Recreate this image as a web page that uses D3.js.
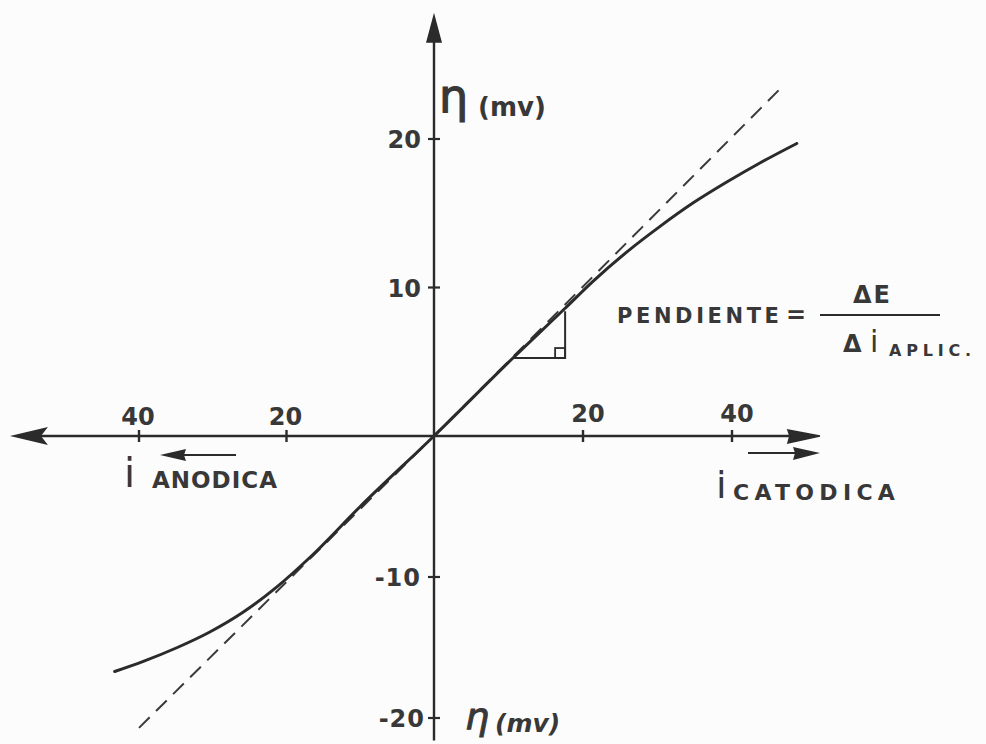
<!DOCTYPE html>
<html>
<head>
<meta charset="utf-8">
<script src="https://cdn.jsdelivr.net/npm/d3@7"></script>
<style>
  html, body { margin: 0; padding: 0; background: #fcfcfc; }
  svg { display: block; }
  text { fill: #383838; font-family: "DejaVu Sans", sans-serif; }
</style>
</head>
<body>
<svg id="chart" width="986" height="744"></svg>
<script>
// Polarization curve: overpotential η (mV) vs applied current (anodic < 0 < cathodic)
const currentValues = [-43.3, -39.5, -34.8, -30.4, -25.9, -21.3, -16.8, -10, 0, 10.6, 17.6, 21.3, 25.9, 30.3, 34.8, 39.3, 43.8, 48.7];
const etaValues     = [-16.7, -16.0, -15.0, -13.9, -12.5, -10.7, -8.6, -5.0, 0, 5.25, 8.6, 10.4, 12.4, 14.1, 15.7, 17.1, 18.4, 19.7];

// Linear (low-field) tangent through the origin
const tangentCurrent = [-40, 0, 46.5];
const tangentEta     = [-20.7, 0, 23.4];

// Slope triangle on the linear part
const triangleCurrent = [10.6, 17.6, 17.6];
const triangleEta     = [5.25, 5.25, 8.4];

// Axis ticks and labels
const xTicks = [-40, -20, 20, 40];
const yTicks = [20, 10, -10, -20];
const xAxisExtent = [-57.5, 51.8];
const yAxisExtent = [-21.6, 28.5];

const svg = d3.select("#chart");

const x = d3.scaleLinear().domain([-40, 0, 40]).range([139, 434, 732]);
const y = d3.scaleLinear().domain([-20, 0, 20]).range([718, 436, 139]);

const ink = "#2b2b2b";

// Axes
const x0 = x(0), y0 = y(0);
svg.append("line")
  .attr("x1", x(xAxisExtent[0]) + 20).attr("x2", x(xAxisExtent[1]) - 10)
  .attr("y1", y0).attr("y2", y0)
  .attr("stroke", ink).attr("stroke-width", 2.4);
svg.append("line")
  .attr("x1", x0).attr("x2", x0)
  .attr("y1", y(yAxisExtent[1]) + 20).attr("y2", y(yAxisExtent[0]))
  .attr("stroke", ink).attr("stroke-width", 2.4);

// Arrowheads
const xl = x(xAxisExtent[0]), xr = x(xAxisExtent[1]), yt = y(yAxisExtent[1]);
svg.append("path")
  .attr("d", `M${xl},${y0} L${xl + 38},${y0 - 9} L${xl + 31},${y0} L${xl + 38},${y0 + 9} Z`)
  .attr("fill", ink);
svg.append("path")
  .attr("d", `M${xr},${y0} L${xr - 32},${y0 - 6} L${xr - 30},${y0} L${xr - 32},${y0 + 7} Z`)
  .attr("fill", ink).attr("stroke", ink).attr("stroke-width", 1.5);
svg.append("path")
  .attr("d", `M${x0},${yt} L${x0 - 8},${yt + 30} L${x0 + 8},${yt + 30} Z`)
  .attr("fill", ink);

// Ticks crossing the axes
svg.selectAll(".xtick").data(xTicks).join("line")
  .attr("x1", d => x(d)).attr("x2", d => x(d))
  .attr("y1", y0 - 6).attr("y2", y0 + 6)
  .attr("stroke", ink).attr("stroke-width", 2.4);
svg.selectAll(".ytick").data(yTicks).join("line")
  .attr("x1", x0 - 6).attr("x2", x0 + 6)
  .attr("y1", d => y(d)).attr("y2", d => y(d))
  .attr("stroke", ink).attr("stroke-width", 2.2);

// Tick labels
svg.selectAll(".xlab").data(xTicks).join("text")
  .attr("x", d => x(d) + (d < 0 ? -1 : 5))
  .attr("y", d => y0 - (d < 0 ? 11 : 14))
  .attr("text-anchor", "middle")
  .attr("font-size", 24).attr("font-weight", "bold")
  .text(d => Math.abs(d));
svg.selectAll(".ylab").data(yTicks).join("text")
  .attr("x", d => x0 - (d === -20 ? 9 : 13))
  .attr("y", d => y(d) + 9)
  .attr("text-anchor", "end")
  .attr("font-size", 24).attr("font-weight", "bold")
  .attr("letter-spacing", d => d < 0 ? 1 : 0)
  .text(d => String(d));

// Tangent (dashed)
svg.append("path")
  .attr("d", d3.line()(tangentCurrent.map((c, i) => [x(c), y(tangentEta[i])])))
  .attr("fill", "none").attr("stroke", "#3a3a3a")
  .attr("stroke-width", 2).attr("stroke-dasharray", "15 9");

// Polarization curve
svg.append("path")
  .attr("d", d3.line().curve(d3.curveMonotoneX)(currentValues.map((c, i) => [x(c), y(etaValues[i])])))
  .attr("fill", "none").attr("stroke", ink)
  .attr("stroke-width", 3).attr("stroke-linecap", "round");

// Slope triangle with right-angle mark
const tri = triangleCurrent.map((c, i) => [x(c), y(triangleEta[i])]);
svg.append("path")
  .attr("d", d3.line()(tri))
  .attr("fill", "none").attr("stroke", ink).attr("stroke-width", 2);
svg.append("rect")
  .attr("x", tri[1][0] - 10).attr("y", tri[1][1] - 10)
  .attr("width", 10).attr("height", 10)
  .attr("fill", "none").attr("stroke", ink).attr("stroke-width", 1.8);

// Axis titles
svg.append("text").attr("x", 439).attr("y", 112).attr("font-size", 46)
  .attr("stroke", "#383838").attr("stroke-width", 1.2).text("η");
svg.append("text").attr("x", 478).attr("y", 116).attr("font-size", 26).attr("font-weight", "bold").text("(mv)");
svg.append("text").attr("x", 465).attr("y", 729).attr("font-size", 38).attr("font-style", "italic")
  .attr("stroke", "#383838").attr("stroke-width", 1).text("η");
svg.append("text").attr("x", 495).attr("y", 732).attr("font-size", 25).attr("font-style", "italic").attr("font-weight", "bold").text("(mv)");

// Current direction labels
svg.append("text").attr("x", 124).attr("y", 487).attr("font-size", 40).attr("font-family", "Liberation Sans").text("i");
svg.append("text").attr("x", 152).attr("y", 488).attr("font-size", 23).attr("font-weight", "bold").attr("letter-spacing", 1).text("ANODICA");
svg.append("line").attr("x1", 170).attr("x2", 236).attr("y1", 455).attr("y2", 455).attr("stroke", ink).attr("stroke-width", 2);
svg.append("path").attr("d", "M160,455 L186,449 L184,455 L186,461 Z").attr("fill", ink);

svg.append("text").attr("x", 716).attr("y", 498).attr("font-size", 38).attr("font-family", "Liberation Sans").text("i");
svg.append("text").attr("x", 733).attr("y", 500).attr("font-size", 22).attr("font-weight", "bold").attr("letter-spacing", 5.3).text("CATODICA");
svg.append("line").attr("x1", 748).attr("x2", 815).attr("y1", 453).attr("y2", 453).attr("stroke", ink).attr("stroke-width", 2);
svg.append("path").attr("d", "M820,453 L793,447 L795,453 L793,460 Z").attr("fill", ink);

// Slope annotation
svg.append("text").attr("x", 617).attr("y", 323).attr("font-size", 21).attr("font-weight", "bold").attr("letter-spacing", 3.6).text("PENDIENTE");
svg.append("text").attr("x", 786).attr("y", 323).attr("font-size", 24).attr("font-weight", "bold").text("=");
svg.append("line").attr("x1", 820).attr("x2", 940).attr("y1", 315).attr("y2", 315).attr("stroke", ink).attr("stroke-width", 2.2);
svg.append("text").attr("x", 853).attr("y", 303).attr("font-size", 24).attr("font-weight", "bold").attr("letter-spacing", 2).text("ΔE");
svg.append("text").attr("x", 843).attr("y", 352).attr("font-size", 24).attr("font-weight", "bold").text("Δ");
svg.append("text").attr("x", 870).attr("y", 352).attr("font-size", 30).attr("font-family", "Liberation Sans").text("i");
svg.append("text").attr("x", 889).attr("y", 356).attr("font-size", 16).attr("font-weight", "bold").attr("letter-spacing", 4.8).text("APLIC.");
</script>
</body>
</html>
